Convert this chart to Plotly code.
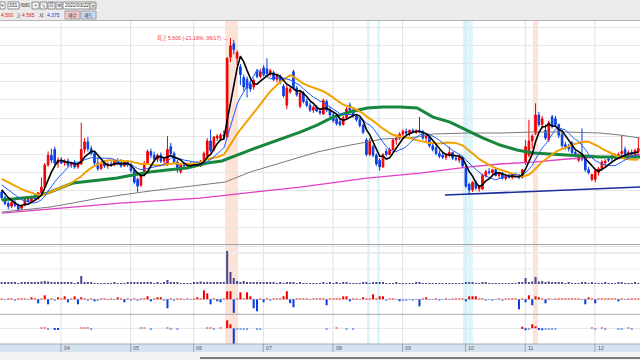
import plotly.graph_objects as go
import pandas as pd

# ---------------- data ----------------
month_labels = ["04", "05", "06", "07", "08", "09", "10", "11", "12"]
month_start = [18, 39, 58, 79, 100, 121, 140, 158, 179]

prior_close = [4250, 4230, 4210, 4230, 4200, 4180, 4200, 4170, 4150, 4160,
               4140, 4120, 4140, 4100, 4110, 4080, 4060, 4030, 4000]

opens = [4000, 3940, 3880, 3850, 3890, 3860, 3830, 3860, 3920, 3900,
         3950, 3930, 3990, 4050, 4280, 4380, 4440, 4300, 4330, 4300,
         4320, 4280, 4300, 4260, 4290, 4440, 4520, 4450, 4400, 4300,
         4240, 4300, 4270, 4290, 4280, 4320, 4300, 4270, 4310, 4280,
         4220, 4130, 4070, 4180, 4300, 4420, 4380, 4340, 4380, 4320,
         4280, 4470, 4400, 4310, 4210, 4280, 4270, 4290, 4280, 4290,
         4270, 4320, 4380, 4530, 4440, 4560, 4550, 4590, 4570, 5400,
         5540, 5390, 5300, 5190, 5170, 5120, 5090, 5250, 5200, 5290,
         5280, 5230, 5240, 5170, 5200, 5100, 4900, 5040, 5250, 5080,
         4890, 5030, 4940, 4900, 4850, 4880, 4840, 4810, 4940, 4850,
         4800, 4760, 4730, 4700, 4770, 4900, 4850, 4790, 4750, 4690,
         4540, 4390, 4470, 4380, 4330, 4260, 4420, 4390, 4440, 4540,
         4560, 4600, 4630, 4610, 4640, 4620, 4640, 4630, 4560, 4570,
         4480, 4460, 4400, 4380, 4360, 4380, 4410, 4350, 4330, 4350,
         4260, 4080, 4020, 4100, 4030, 4030, 4170, 4210, 4200, 4230,
         4170, 4190, 4140, 4160, 4150, 4180, 4160, 4150, 4300, 4380,
         4530, 4610, 4800, 4700, 4640, 4540, 4780, 4760, 4700, 4600,
         4490, 4470, 4510, 4410, 4330, 4370, 4360, 4230, 4130, 4130,
         4200, 4240, 4300, 4340, 4370, 4370, 4360, 4400, 4440, 4390,
         4410, 4390, 4420]
highs = [4010, 3960, 3900, 3900, 3920, 3880, 3870, 3930, 3950, 3960,
         3980, 4000, 4150, 4300, 4420, 4450, 4470, 4360, 4360, 4340,
         4350, 4310, 4330, 4300, 4720, 4560, 4570, 4480, 4420, 4360,
         4320, 4330, 4310, 4320, 4330, 4350, 4340, 4320, 4330, 4300,
         4240, 4150, 4200, 4320, 4440, 4450, 4420, 4400, 4410, 4360,
         4580, 4510, 4420, 4330, 4300, 4310, 4300, 4310, 4310, 4320,
         4330, 4420, 4560, 4650, 4580, 4600, 4610, 4640, 5400, 5600,
         5580, 5470, 5330, 5220, 5200, 5160, 5180, 5280, 5280, 5320,
         5390, 5280, 5260, 5230, 5220, 5120, 5110, 5090, 5270, 5100,
         5050, 5050, 4970, 4930, 4900, 4900, 4870, 4970, 4960, 4880,
         4830, 4790, 4760, 4790, 4880, 4930, 4870, 4810, 4770, 4710,
         4560, 4560, 4490, 4400, 4350, 4400, 4450, 4460, 4560, 4580,
         4620, 4650, 4660, 4650, 4660, 4650, 4780, 4640, 4600, 4590,
         4500, 4480, 4430, 4420, 4400, 4470, 4420, 4380, 4390, 4370,
         4280, 4090, 4110, 4120, 4070, 4190, 4230, 4250, 4240, 4250,
         4200, 4210, 4180, 4190, 4190, 4200, 4190, 4240, 4540, 4750,
         4600, 4920, 4830, 4790, 4700, 4740, 4800, 4790, 4710, 4620,
         4520, 4500, 4530, 4430, 4400, 4660, 4380, 4260, 4190, 4240,
         4260, 4330, 4340, 4370, 4380, 4400, 4410, 4590, 4470, 4430,
         4440, 4450, 4565]
lows = [3920, 3860, 3820, 3830, 3840, 3800, 3810, 3850, 3890, 3890,
        3910, 3920, 3980, 4040, 4260, 4300, 4270, 4250, 4290, 4270,
        4260, 4250, 4240, 4240, 4280, 4400, 4420, 4380, 4270, 4220,
        4230, 4250, 4240, 4260, 4270, 4280, 4250, 4260, 4260, 4200,
        4080, 4000, 4050, 4160, 4280, 4350, 4320, 4310, 4300, 4280,
        4270, 4370, 4290, 4200, 4190, 4250, 4250, 4260, 4250, 4260,
        4260, 4300, 4350, 4410, 4420, 4530, 4540, 4540, 4560, 5350,
        5430, 5320, 5110, 5050, 4980, 5040, 5060, 5180, 5180, 5200,
        5210, 5200, 5150, 5140, 5120, 4980, 4860, 5020, 5060, 4990,
        4870, 4920, 4880, 4830, 4820, 4830, 4800, 4800, 4830, 4780,
        4720, 4690, 4680, 4690, 4760, 4840, 4770, 4730, 4670, 4600,
        4370, 4370, 4360, 4270, 4220, 4250, 4370, 4380, 4430, 4490,
        4540, 4570, 4590, 4580, 4610, 4600, 4610, 4540, 4520, 4460,
        4420, 4380, 4350, 4340, 4330, 4360, 4330, 4320, 4300, 4250,
        4040, 3970, 4000, 4020, 4000, 4020, 4150, 4180, 4170, 4160,
        4140, 4130, 4120, 4140, 4130, 4150, 4130, 4140, 4280, 4360,
        4450, 4590, 4680, 4660, 4540, 4520, 4660, 4680, 4560, 4460,
        4440, 4420, 4390, 4360, 4310, 4320, 4210, 4180, 4110, 4100,
        4170, 4220, 4250, 4310, 4320, 4340, 4340, 4380, 4370, 4350,
        4370, 4370, 4375]
closes = [3940, 3880, 3850, 3890, 3860, 3820, 3860, 3920, 3900, 3950,
          3930, 3990, 4050, 4280, 4380, 4330, 4300, 4330, 4300, 4320,
          4280, 4300, 4260, 4290, 4440, 4520, 4450, 4400, 4300, 4240,
          4300, 4270, 4290, 4280, 4320, 4300, 4270, 4310, 4280, 4220,
          4100, 4060, 4180, 4300, 4420, 4380, 4340, 4380, 4320, 4340,
          4440, 4400, 4310, 4230, 4280, 4270, 4290, 4280, 4290, 4270,
          4320, 4400, 4530, 4430, 4570, 4580, 4590, 4580, 5390, 5520,
          5480, 5450, 5220, 5090, 5080, 5070, 5160, 5200, 5250, 5220,
          5230, 5260, 5170, 5210, 5140, 5000, 5080, 5070, 5080, 5010,
          5030, 4940, 4900, 4850, 4880, 4840, 4820, 4950, 4850, 4800,
          4740, 4710, 4700, 4770, 4860, 4850, 4790, 4750, 4690, 4620,
          4390, 4530, 4380, 4290, 4260, 4390, 4390, 4440, 4540, 4560,
          4600, 4630, 4610, 4640, 4620, 4640, 4630, 4560, 4580, 4480,
          4440, 4400, 4370, 4360, 4380, 4410, 4350, 4340, 4370, 4270,
          4060, 4020, 4100, 4040, 4050, 4170, 4210, 4200, 4230, 4170,
          4190, 4140, 4160, 4150, 4180, 4160, 4150, 4230, 4470, 4530,
          4580, 4800, 4700, 4760, 4560, 4720, 4680, 4700, 4590, 4480,
          4470, 4450, 4410, 4380, 4380, 4340, 4230, 4200, 4180, 4220,
          4240, 4310, 4320, 4330, 4350, 4360, 4390, 4420, 4390, 4410,
          4390, 4430, 4450]

volume = [150, 130, 120, 110, 120, 100, 110, 130, 120, 110,
          120, 150, 250, 300, 250, 200, 150, 130, 120, 110,
          110, 120, 100, 110, 800, 150, 120, 110, 100, 100,
          90, 100, 100, 90, 110, 100, 90, 100, 110, 120,
          130, 120, 200, 150, 130, 120, 100, 110, 100, 150,
          400, 200, 130, 110, 100, 100, 90, 100, 120, 150,
          250, 200, 220, 180, 150, 130, 120, 150, 3300, 1200,
          600, 300, 200, 300, 150, 120, 200, 130, 120, 110,
          200, 120, 110, 100, 110, 100, 130, 110, 150, 100,
          120, 100, 90, 100, 90, 100, 90, 120, 100, 110,
          100, 110, 90, 120, 110, 100, 90, 100, 90, 110,
          120, 100, 110, 120, 130, 110, 100, 90, 100, 110,
          100, 90, 100, 90, 100, 120, 110, 100, 90, 100,
          90, 100, 90, 80, 90, 100, 90, 80, 90, 100,
          130, 150, 120, 100, 100, 120, 110, 100, 90, 90,
          90, 100, 90, 90, 100, 90, 110, 150, 600, 200,
          250, 700, 250, 300, 200, 250, 150, 130, 120, 110,
          100, 110, 100, 90, 100, 120, 110, 100, 110, 100,
          100, 90, 110, 100, 90, 100, 200, 120, 100, 90,
          100, 110, 90]

net_a = [10, -5, 5, 10, -10, 5, 5, 10, -5, 20,
         15, -40, 10, 40, -50, 10, -10, 20, 5, 30,
         -30, 10, 30, -50, 20, 10, -10, 5, -20, -10,
         5, 10, -5, 5, -5, 20, 5, -30, 5, -10,
         10, -10, 5, 10, 30, -20, 10, 20, 20, -10,
         -90, 10, -10, 5, 10, -5, 5, -5, 5, 20,
         5, 90, 60, -50, 10, -20, -30, 10, 80, 80,
         -135, 10, 70, 10, 70, 30, -90, -120, 5, -30,
         5, -10, 5, 15, 15, 30, 80, -40, -80, 10,
         5, 10, 5, -5, 10, 5, 15, 15, -60, 5,
         10, 15, 5, 30, 30, -20, 10, 5, -5, 20,
         10, 5, 50, 10, 30, 30, -10, 5, 10, -5,
         -20, -10, -10, -5, -10, -5, -70, 5, 20, -5,
         -5, 5, -10, -5, 5, -5, 5, 5, 10, 5,
         -20, 30, 30, 30, 10, 5, -10, -5, -10, -5,
         5, -10, 5, 10, 5, 10, -100, 5, -30, 40,
         -60, 30, 20, 5, -40, 10, -5, 10, 10, 10,
         10, 10, 10, 5, 5, -5, -50, 20, 10, -40,
         10, 5, 10, 10, 5, 10, -20, 10, -5, 5,
         10, 5, 10]

net_b_idx = [12, 13, 14, 16, 17, 24, 25, 26, 27, 42, 43, 45, 50, 51, 53,
             62, 63, 64, 66, 68, 69, 70, 71, 72, 73, 74, 77, 78, 98, 101,
             104, 106, 157, 158, 159, 160, 161, 162, 163, 164, 165, 166,
             167, 178, 179, 181, 182, 186, 187, 189, 190]
net_b_val = [5, 5, -5, -8, -8, 5, 5, 5, -5, 5, 5, -5, 5, -5, -5,
             5, 5, -5, 5, 40, 20, -78, -5, -5, -5, -5, -5, -5, -5, 5,
             -5, -5, 8, -10, -5, 20, 10, -8, -10, -5, -5, -5,
             -5, 5, -5, 5, -5, -5, -5, 5, -5]

# long moving averages (index, price)
ma60_x = [0, 5.5, 9.5, 14.6, 21.5, 29.7, 34.8, 39.6, 44.7, 49.9, 55.9, 62, 66.4,
          74.9, 84.8, 90, 95.1, 99.9, 105, 110.2, 115, 120.1, 125.3, 130.1,
          135.2, 140.3, 145.2, 150.3, 155.4, 160.2, 165.4, 170.5, 175.3,
          180.4, 185.6, 192.5]
ma60_y = [3915, 3936, 3946, 3998, 4092, 4123, 4144, 4175, 4206, 4227, 4248, 4300, 4321,
          4435, 4560, 4622, 4695, 4778, 4830, 4872, 4882, 4882, 4872, 4778,
          4726, 4643, 4560, 4487, 4435, 4404, 4394, 4383, 4373,
          4362, 4362, 4362]
ma120_x = [0, 14.6, 29.7, 44.7, 59.8, 67.4, 74.9, 84.8, 95.1, 102, 110.2, 115,
           120.1, 125.3, 130.1, 140.3, 150.3, 160.2, 170.5, 180.4, 186.5, 192.5]
ma120_y = [3790, 3842, 3936, 4009, 4071, 4102, 4206, 4310, 4414, 4466, 4518, 4550,
           4560, 4570, 4602, 4612, 4612, 4622, 4622, 4612, 4591, 4560]
ma240_x = [0, 17.6, 35.7, 59.8, 90, 110.2, 126.2, 140.3, 150.3, 160.2, 170.5, 180.4, 192.5]
ma240_y = [3780, 3832, 3884, 3936, 4050, 4144, 4196, 4258, 4290, 4310, 4342, 4362, 4383]

trend_x = [133.7, 192.5]
trend_y = [3967, 4050]

grid_prices = [3632, 3822, 4011, 4200, 4389, 4579, 4768, 4957, 5147, 5336, 5525, 5714]

band_x0 = [67.4, 110.2, 113.2, 139.1, 160.2]
band_x1 = [71.3, 111.1, 114.1, 142.1, 161.7]
band_col = ["#fde2d8", "#ddf6fc", "#ddf6fc", "#ddf6fc", "#fde2d8"]

# ---------------- figure ----------------
W, H = 640, 360
N = len(closes)
idx = list(range(N))


def X(px):
    return px / W


def Y(py):
    return 1 - py / H


s = pd.Series(prior_close + closes, dtype=float)
off = len(prior_close)
ma5 = s.rolling(5).mean().iloc[off:].tolist()
ma10 = s.rolling(10).mean().iloc[off:].tolist()
ma20 = s.rolling(20).mean().iloc[off:].tolist()

RED = "#f20000"
BLUE = "#0a3fe0"

fig = go.Figure()

fig.add_trace(go.Scatter(x=ma240_x, y=ma240_y, mode="lines",
                         line=dict(color="#e23fc4", width=1.3), hoverinfo="skip"))
fig.add_trace(go.Scatter(x=ma120_x, y=ma120_y, mode="lines",
                         line=dict(color="#7a7a7a", width=1), hoverinfo="skip"))
fig.add_trace(go.Scatter(x=ma60_x, y=ma60_y, mode="lines",
                         line=dict(color="#17873d", width=3), hoverinfo="skip"))
fig.add_trace(go.Scatter(x=idx, y=ma20, mode="lines",
                         line=dict(color="#f0a200", width=2), hoverinfo="skip"))
fig.add_trace(go.Scatter(x=trend_x, y=trend_y, mode="lines",
                         line=dict(color="#1a2d9e", width=1.6), hoverinfo="skip"))

fig.add_trace(go.Candlestick(
    x=idx, open=opens, high=highs, low=lows, close=closes,
    increasing=dict(line=dict(color=RED, width=1), fillcolor=RED),
    decreasing=dict(line=dict(color=BLUE, width=1), fillcolor=BLUE),
    whiskerwidth=0, hoverinfo="skip"))

fig.add_trace(go.Scatter(x=idx, y=ma10, mode="lines",
                         line=dict(color="#1f5cff", width=1), hoverinfo="skip"))
fig.add_trace(go.Scatter(x=idx, y=ma5, mode="lines",
                         line=dict(color="#000000", width=1.6), hoverinfo="skip"))

# volume
fig.add_trace(go.Bar(x=idx, y=volume, yaxis="y2", width=0.62,
                     marker=dict(color="#4b4b8e", line=dict(width=0)), hoverinfo="skip"))


def col(v, big):
    if v >= 0:
        return RED if abs(v) >= big else "#f08888"
    return BLUE if abs(v) >= big else "#7fa0ea"


fig.add_trace(go.Bar(x=idx, y=net_a, yaxis="y3", width=0.62,
                     marker=dict(color=[col(v, 20) for v in net_a], line=dict(width=0)),
                     hoverinfo="skip"))
fig.add_trace(go.Bar(x=net_b_idx, y=net_b_val, yaxis="y4", width=0.62,
                     marker=dict(color=[col(v, 8) for v in net_b_val], line=dict(width=0)),
                     hoverinfo="skip"))

shapes = []
shapes.append(dict(type="rect", xref="paper", yref="paper", x0=0, x1=1, y0=Y(20), y1=1,
                   fillcolor="#ebebeb", line=dict(width=0), layer="below"))
shapes.append(dict(type="line", xref="paper", yref="paper", x0=0, x1=1, y0=Y(20.5), y1=Y(20.5),
                   line=dict(color="#b4b4b4", width=1)))
for a, b, c in zip(band_x0, band_x1, band_col):
    shapes.append(dict(type="rect", xref="x", yref="paper", x0=a, x1=b, y0=Y(344), y1=Y(21),
                       fillcolor=c, line=dict(width=0), layer="below"))
for m in month_start:
    shapes.append(dict(type="line", xref="x", yref="paper", x0=m - 0.1, x1=m - 0.1,
                       y0=Y(352), y1=Y(21), line=dict(color="#e0e0e0", width=1), layer="below"))
for py, c, w in [(244.5, "#a4a4a4", 1), (246.5, "#e2e2e2", 1), (253, "#ececec", 2),
                 (269, "#ededed", 1), (299.3, "#d6d6d6", 1), (314.3, "#acacac", 1),
                 (328.3, "#e3e3e3", 1)]:
    shapes.append(dict(type="line", xref="paper", yref="paper", x0=0, x1=1, y0=Y(py), y1=Y(py),
                       line=dict(color=c, width=w), layer="below"))
shapes.append(dict(type="rect", xref="paper", yref="paper", x0=0, x1=1, y0=Y(352), y1=Y(344),
                   fillcolor="#d6e2f0", line=dict(width=0)))
shapes.append(dict(type="line", xref="paper", yref="paper", x0=0, x1=1, y0=Y(344), y1=Y(344),
                   line=dict(color="#9eabbb", width=1)))
for m in month_start:
    shapes.append(dict(type="line", xref="x", yref="paper", x0=m - 0.1, x1=m - 0.1,
                       y0=Y(352), y1=Y(344), line=dict(color="#9aa6b4", width=1)))
shapes.append(dict(type="rect", xref="paper", yref="paper", x0=0, x1=1, y0=0, y1=Y(352),
                   fillcolor="#f3f3f3", line=dict(width=0)))
shapes.append(dict(type="line", xref="paper", yref="paper", x0=X(200), x1=1, y0=Y(358), y1=Y(358),
                   line=dict(color="#555555", width=1.5)))


def box(x0, x1, y0, y1, fill="#ffffff", edge="#8c8c8c"):
    shapes.append(dict(type="rect", xref="paper", yref="paper", x0=X(x0), x1=X(x1),
                       y0=Y(y1), y1=Y(y0), fillcolor=fill, line=dict(color=edge, width=1)))


box(0, 5, 2, 9)
box(8, 19, 2, 9)
box(32, 39, 2, 9, "#f4f4f4")
box(40, 47, 2, 9, "#f4f4f4")
box(48, 55, 2, 9, "#f4f4f4")
box(56, 62, 2, 9, "#f4f4f4")
box(63, 90, 2, 9)
box(90, 96, 2, 9, "#f4f4f4")
box(65, 80, 11, 19, "#f6c8c8", "#a0a0a0")
box(81, 96, 11, 19, "#cadcf4", "#a0a0a0")

annotations = []
NUMF = "Liberation Sans, Noto Sans CJK KR"


def txt(x, y, t, color="#222222", size=5, anchor="left", fam=NUMF):
    annotations.append(dict(xref="paper", yref="paper", x=X(x), y=Y(y), text=t, showarrow=False,
                            xanchor=anchor, yanchor="middle", borderpad=0,
                            font=dict(family=fam, size=size, color=color)))


txt(2.5, 5.5, "▾", "#555555", 4.5, "center")
txt(13.5, 5.5, "331", "#222222", 5, "center")
txt(19, 5.5, "/680", "#333333", 5)
txt(35.5, 5.5, "▪", "#333333", 5, "center")
txt(43.5, 5.5, "↘", "#333333", 4.5, "center")
txt(51.5, 5.5, "目", "#333333", 4.5, "center")
txt(59, 5.5, "⚙", "#333333", 4.5, "center")
txt(76.5, 5.5, "2022/03/22", "#222222", 4.8, "center")
txt(93, 5.5, "▣", "#444444", 4.5, "center")
txt(-0.5, 15.5, "4,500", "#e02020", 5)
txt(15, 15.5, "고", "#222222", 5)
txt(21, 15.5, "4,565", "#e02020", 5)
txt(38, 15.5, "저", "#222222", 5)
txt(46, 15.5, "4,375", "#2040e0", 5)
txt(72.5, 15.5, "매수", "#333333", 5, "center")
txt(88.5, 15.5, "매도", "#333333", 5, "center")

for m, lab in zip(month_start, month_labels):
    annotations.append(dict(xref="x", yref="paper", x=m, y=Y(348.3), text=lab, showarrow=False,
                            xanchor="left", yanchor="middle", xshift=0.5,
                            font=dict(family="Liberation Sans", size=5.2, color="#555555")))

annotations.append(dict(xref="x", yref="y", x=69, y=5600, text="최고 5,600 (-21.16%, 06/17) →",
                        showarrow=False, xanchor="right", yanchor="middle", xshift=-0.5,
                        font=dict(family=NUMF, size=5.2, color="#f03030")))

ax_common = dict(showticklabels=False, ticks="", zeroline=False, showline=False, fixedrange=True)

fig.update_layout(
    width=W, height=H, margin=dict(l=0, r=0, t=0, b=0),
    paper_bgcolor="white", plot_bgcolor="white", showlegend=False, barmode="overlay",
    xaxis=dict(domain=[0, 1], range=[-0.5, N - 0.5], visible=False, showgrid=False,
               rangeslider=dict(visible=False), fixedrange=True),
    yaxis=dict(domain=[Y(244), Y(21)], range=[3458, 5777], tickvals=grid_prices,
               showgrid=True, gridcolor="#e6e6e6", gridwidth=1, **ax_common),
    yaxis2=dict(domain=[Y(286), Y(245)], range=[-200, 3900], showgrid=False, **ax_common),
    yaxis3=dict(domain=[Y(314), Y(286)], range=[-147, 133], showgrid=False, **ax_common),
    yaxis4=dict(domain=[Y(344), Y(314)], range=[-78.5, 71.5], showgrid=False, **ax_common),
    shapes=shapes, annotations=annotations,
)

fig.write_html("out.html", config={"displayModeBar": False})
